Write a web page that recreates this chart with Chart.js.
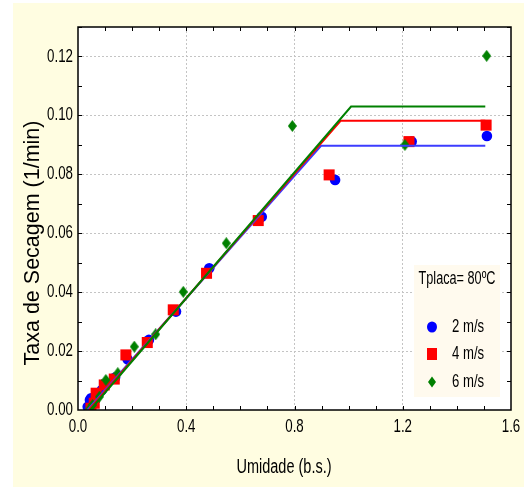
<!DOCTYPE html>
<html>
<head>
<meta charset="utf-8">
<script src="https://cdn.jsdelivr.net/npm/chart.js@4"></script>
<style>
  html, body { margin: 0; padding: 0; background: #fff; }
</style>
</head>
<body>
<canvas id="myChart" width="524" height="489"></canvas>
<script>
// dados
const xTicks = [0.0, 0.4, 0.8, 1.2, 1.6];
const yTicks = [0.00, 0.02, 0.04, 0.06, 0.08, 0.10, 0.12];
const seriesLabels = ['2 m/s', '4 m/s', '6 m/s'];
const legendTitle = 'Tplaca= 80ºC';
const xTitle = 'Umidade (b.s.)';
const yTitle = 'Taxa de Secagem (1/min)';

// 2 m/s
const blueX = [0.036, 0.044, 0.048, 0.088, 0.100, 0.137, 0.183, 0.262, 0.362, 0.485, 0.679, 0.950, 1.233, 1.511];
const blueY = [0.0011, 0.0034, 0.0040, 0.0068, 0.0085, 0.0110, 0.0172, 0.0238, 0.0334, 0.0481, 0.0656, 0.0781, 0.0911, 0.0930];
// 4 m/s
const redX = [0.048, 0.060, 0.067, 0.097, 0.134, 0.177, 0.256, 0.352, 0.475, 0.666, 0.928, 1.223, 1.508];
const redY = [0.0006, 0.0023, 0.0057, 0.0085, 0.0105, 0.0187, 0.0229, 0.0340, 0.0464, 0.0643, 0.0798, 0.0911, 0.0967];
// 6 m/s
const greenX = [0.044, 0.054, 0.079, 0.103, 0.147, 0.208, 0.287, 0.389, 0.548, 0.792, 1.208, 1.510];
const greenY = [0.0005, 0.0017, 0.0045, 0.0102, 0.0125, 0.0215, 0.0257, 0.0401, 0.0566, 0.0964, 0.0900, 0.1202];

// retas ajustadas (período decrescente + constante)
const fitBlueX = [0.035, 0.898, 1.505];
const fitBlueY = [0.0, 0.0897, 0.0897];
const fitRedX = [0.040, 0.971, 1.505];
const fitRedY = [0.0, 0.0982, 0.0982];
const fitGreenX = [0.045, 1.009, 1.505];
const fitGreenY = [0.0, 0.1030, 0.1030];

const toPts = (xs, ys) => xs.map((x, i) => ({ x: x, y: ys[i] }));

const FONT = '"Liberation Sans", Arial, sans-serif';

// losango estreito para a série de 6 m/s
function diamond(w, h, color) {
  const cv = document.createElement('canvas');
  cv.width = w; cv.height = h;
  const g = cv.getContext('2d');
  g.fillStyle = color;
  g.beginPath();
  g.moveTo(w / 2, 0); g.lineTo(w, h / 2); g.lineTo(w / 2, h); g.lineTo(0, h / 2);
  g.closePath(); g.fill();
  return cv;
}
const greenMark = diamond(9, 12, '#008000');

// texto estreito (fonte tipo Arial Narrow)
function narrowText(c, txt, x, y, size, align, sq) {
  c.save();
  c.translate(x, y);
  c.scale(sq, 1);
  c.font = size + 'px ' + FONT;
  c.textAlign = align;
  c.textBaseline = 'middle';
  c.fillText(txt, 0, 0);
  c.restore();
}

// fundo, moldura, marcas, rótulos, títulos e legenda
const decor = {
  id: 'decor',
  beforeDraw(chart) {
    const c = chart.ctx, a = chart.chartArea;
    c.save();
    c.fillStyle = '#ffffff';
    c.fillRect(0, 0, chart.width, chart.height);
    c.fillStyle = '#fffde1';
    c.fillRect(13, 3, chart.width - 13, 484);
    c.fillStyle = '#ffffff';
    c.fillRect(a.left, a.top, a.right - a.left, a.bottom - a.top);
    c.restore();
  },
  afterDraw(chart) {
    const c = chart.ctx, a = chart.chartArea;
    const sx = chart.scales.x, sy = chart.scales.y;
    c.save();
    // moldura
    c.strokeStyle = '#000';
    c.lineWidth = 1.5;
    c.strokeRect(a.left, a.top, a.right - a.left, a.bottom - a.top);
    // marcas para dentro nos quatro lados
    c.lineWidth = 1;
    c.beginPath();
    for (let i = 1; i < 16; i++) {
      const px = Math.round(sx.getPixelForValue(i * 0.1)) + 0.5;
      c.moveTo(px, a.bottom); c.lineTo(px, a.bottom - 4);
      c.moveTo(px, a.top); c.lineTo(px, a.top + 4);
    }
    for (let i = 1; i <= 13; i++) {
      const py = Math.round(sy.getPixelForValue(i * 0.01)) + 0.5;
      c.moveTo(a.left, py); c.lineTo(a.left + 4, py);
      c.moveTo(a.right, py); c.lineTo(a.right - 4, py);
    }
    c.stroke();

    // rótulos dos eixos
    c.fillStyle = '#000';
    yTicks.forEach(v => narrowText(c, v.toFixed(2), a.left - 5, sy.getPixelForValue(v), 18.5, 'right', 0.72));
    xTicks.forEach(v => narrowText(c, v.toFixed(1), sx.getPixelForValue(v), a.bottom + 17, 18.5, 'center', 0.72));

    // títulos dos eixos
    narrowText(c, xTitle, 284, 467, 20, 'center', 0.725);
    c.save();
    c.translate(33, 243);
    c.rotate(-Math.PI / 2);
    c.font = '21.5px ' + FONT;
    c.textAlign = 'center';
    c.textBaseline = 'middle';
    c.fillText(yTitle, 0, 0);
    c.restore();

    // legenda
    c.fillStyle = '#fffaee';
    c.fillRect(414, 265, 86, 132);
    c.fillStyle = '#000';
    narrowText(c, legendTitle, 457, 279, 17.5, 'center', 0.725);
    const ys = [327, 354, 382];
    const cols = ['#0000ff', '#ff0000', '#008000'];
    seriesLabels.forEach((lab, i) => {
      const mx = 432, my = ys[i];
      c.fillStyle = cols[i];
      c.beginPath();
      if (i === 0) c.ellipse(mx, my, 5, 5.5, 0, 0, Math.PI * 2);
      else if (i === 1) c.rect(mx - 5, my - 6, 10, 12);
      else { c.moveTo(mx, my - 5.5); c.lineTo(mx + 4, my); c.lineTo(mx, my + 5.5); c.lineTo(mx - 4, my); c.closePath(); }
      c.fill();
      c.fillStyle = '#000';
      narrowText(c, lab, 452, my, 17.5, 'left', 0.75);
    });
    c.restore();
  }
};

const ctx = document.getElementById('myChart').getContext('2d');
const myChart = new Chart(ctx, {
  type: 'scatter',
  data: {
    datasets: [
      { label: 'fit 6', data: toPts(fitGreenX, fitGreenY), showLine: true, borderColor: '#008000', borderWidth: 2, pointRadius: 0, order: 0 },
      { label: 'fit 4', data: toPts(fitRedX, fitRedY), showLine: true, borderColor: '#ff0000', borderWidth: 2, pointRadius: 0, order: 1 },
      { label: 'fit 2', data: toPts(fitBlueX, fitBlueY), showLine: true, borderColor: '#3c3cff', borderWidth: 2, pointRadius: 0, order: 2 },
      { label: seriesLabels[2], data: toPts(greenX, greenY), pointStyle: greenMark, pointRadius: 6, order: 3 },
      { label: seriesLabels[1], data: toPts(redX, redY), pointStyle: 'rect', pointRadius: 7.8, backgroundColor: '#ff0000', borderColor: '#ff0000', borderWidth: 0, order: 4 },
      { label: seriesLabels[0], data: toPts(blueX, blueY), pointStyle: 'circle', pointRadius: 5.3, backgroundColor: '#0000ff', borderColor: '#0000ff', borderWidth: 0, order: 5 }
    ]
  },
  options: {
    responsive: false,
    animation: false,
    layout: { padding: { top: 27, right: 13, left: 0, bottom: 0 } },
    plugins: { legend: { display: false }, tooltip: { enabled: false } },
    scales: {
      x: {
        min: 0, max: 1.6,
        afterBuildTicks: s => { s.ticks = xTicks.map(v => ({ value: v })); },
        afterFit: s => { s.height = 79; },
        border: { display: false, dash: [2, 2] },
        grid: { drawTicks: false, color: c => (c.tick && c.tick.value > 0 && c.tick.value < 1.6) ? '#c4c4c4' : 'transparent' },
        ticks: { display: false }
      },
      y: {
        min: 0, max: 0.13,
        afterBuildTicks: s => { s.ticks = yTicks.map(v => ({ value: v })); },
        afterFit: s => { s.width = 78; },
        border: { display: false, dash: [2, 2] },
        grid: { drawTicks: false, color: c => (c.tick && c.tick.value > 0) ? '#c4c4c4' : 'transparent' },
        ticks: { display: false }
      }
    }
  },
  plugins: [decor]
});
</script>
</body>
</html>
